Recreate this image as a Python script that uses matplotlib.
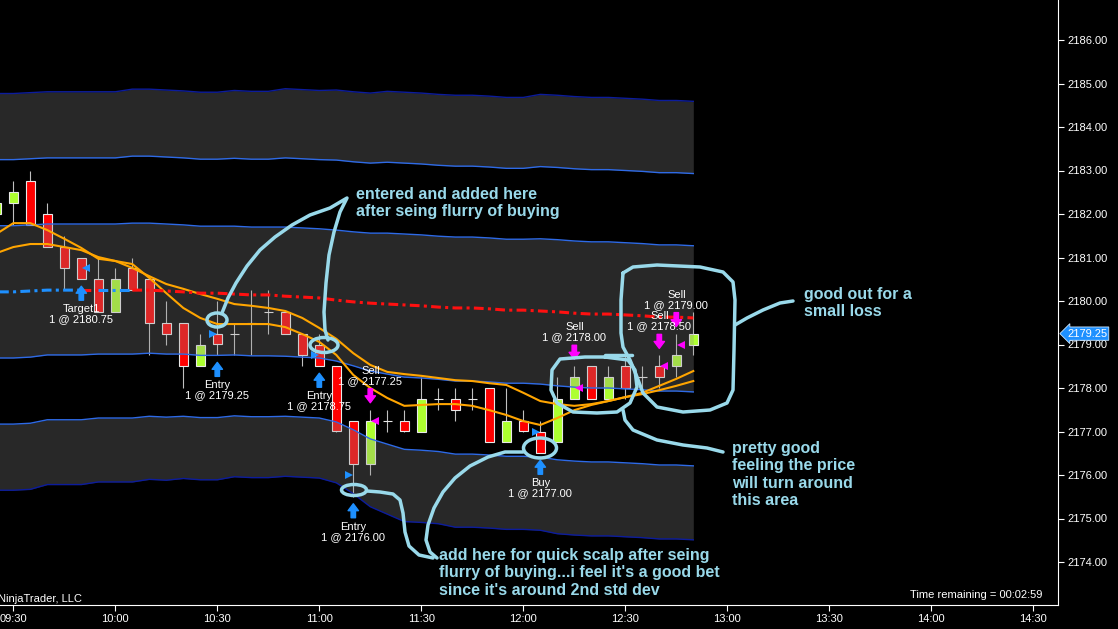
import numpy as np
import matplotlib
matplotlib.use("Agg")
import matplotlib.pyplot as plt
from matplotlib.transforms import Affine2D, blended_transform_factory
from matplotlib.patches import Ellipse

plt.rcParams['font.family'] = ['Liberation Sans', 'DejaVu Sans']

# ES 5 minute bars, index 0 = 09:30 (bar -1 is cut by the left edge)
bar = np.arange(-1, 41)
opn = [2182.00, 2182.25, 2182.75, 2182.00, 2181.25, 2181.00, 2180.50, 2179.75, 2180.75, 2180.50,
       2179.50, 2179.50, 2178.50, 2179.25, 2179.25, 2179.50, 2179.75, 2179.75, 2179.25, 2179.00,
       2178.50, 2177.25, 2176.25, 2177.25, 2177.25, 2177.00, 2177.75, 2177.75, 2177.75, 2178.00,
       2176.75, 2177.25, 2177.00, 2176.75, 2177.75, 2178.50, 2177.75, 2178.50, 2178.25, 2178.50,
       2178.50, 2179.00]
high = [2182.50, 2182.75, 2183.00, 2182.25, 2181.50, 2181.00, 2181.00, 2180.75, 2181.00, 2180.50,
        2180.00, 2179.50, 2179.25, 2180.00, 2179.50, 2180.25, 2180.25, 2179.75, 2179.25, 2179.25,
        2178.50, 2177.25, 2177.50, 2177.50, 2177.50, 2178.25, 2178.00, 2178.00, 2178.00, 2178.00,
        2178.00, 2177.50, 2177.25, 2178.25, 2178.50, 2178.50, 2178.50, 2178.75, 2178.50, 2178.75,
        2179.25, 2179.75]
low = [2181.75, 2181.75, 2181.75, 2181.25, 2180.25, 2180.50, 2179.75, 2179.75, 2180.25, 2178.75,
       2179.00, 2178.00, 2178.50, 2178.75, 2178.75, 2178.75, 2179.25, 2179.25, 2178.50, 2178.50,
       2177.00, 2175.50, 2176.00, 2177.00, 2177.00, 2177.00, 2177.50, 2177.25, 2177.50, 2176.75,
       2176.75, 2177.00, 2176.50, 2176.75, 2177.75, 2177.75, 2177.75, 2177.75, 2178.00, 2178.00,
       2178.25, 2178.75]
close = [2182.25, 2182.50, 2181.75, 2181.25, 2180.75, 2180.50, 2179.75, 2180.50, 2180.25, 2179.50,
         2179.25, 2178.50, 2179.00, 2179.00, 2179.25, 2179.50, 2179.75, 2179.25, 2178.75, 2178.50,
         2177.00, 2176.25, 2177.25, 2177.25, 2177.00, 2177.75, 2177.75, 2177.50, 2177.75, 2176.75,
         2177.25, 2177.00, 2176.50, 2177.75, 2178.25, 2177.75, 2178.25, 2178.00, 2178.25, 2178.25,
         2178.75, 2179.25]

vwap = [2180.21, 2180.21, 2180.23, 2180.25, 2180.25, 2180.25, 2180.25,
        2180.25, 2180.25, 2180.25, 2180.23, 2180.21, 2180.18, 2180.18,
        2180.16, 2180.14, 2180.14, 2180.11, 2180.09, 2180.07, 2180.02,
        2179.98, 2179.95, 2179.93, 2179.91, 2179.89, 2179.86, 2179.84,
        2179.84, 2179.82, 2179.79, 2179.79, 2179.77, 2179.75, 2179.72,
        2179.70, 2179.70, 2179.68, 2179.66, 2179.63, 2179.63, 2179.61]
sd_up = [1.52, 1.52, 1.52, 1.52, 1.52, 1.52, 1.52,
         1.52, 1.54, 1.54, 1.54, 1.54, 1.54, 1.54,
         1.56, 1.56, 1.56, 1.59, 1.59, 1.59, 1.61,
         1.61, 1.61, 1.63, 1.63, 1.63, 1.63, 1.63,
         1.63, 1.63, 1.63, 1.63, 1.66, 1.66, 1.66,
         1.66, 1.66, 1.66, 1.66, 1.66, 1.66, 1.66]
sd_dn = [1.52, 1.52, 1.52, 1.49, 1.49, 1.49, 1.47,
         1.47, 1.47, 1.45, 1.45, 1.43, 1.43, 1.43,
         1.40, 1.40, 1.40, 1.38, 1.38, 1.38, 1.40,
         1.47, 1.56, 1.61, 1.66, 1.66, 1.66, 1.68,
         1.68, 1.68, 1.68, 1.68, 1.68, 1.70, 1.70,
         1.70, 1.70, 1.70, 1.70, 1.70, 1.70, 1.70]
ema_fast = [2181.54, 2181.79, 2181.79, 2181.63, 2181.43, 2181.22, 2180.97, 2180.92, 2180.85, 2180.53,
            2180.18, 2179.84, 2179.61, 2179.47, 2179.47, 2179.47, 2179.47, 2179.40, 2179.24, 2179.06,
            2178.76, 2178.30, 2178.00, 2177.77, 2177.59, 2177.61, 2177.63, 2177.63, 2177.59, 2177.49,
            2177.38, 2177.24, 2177.15, 2177.31, 2177.49, 2177.61, 2177.70, 2177.79, 2177.89, 2178.05,
            2178.21, 2178.39]
ema_slow = [2181.10, 2181.24, 2181.31, 2181.31, 2181.24, 2181.17, 2181.01, 2180.92, 2180.76, 2180.57,
            2180.39, 2180.28, 2180.16, 2180.05, 2179.93, 2179.89, 2179.84, 2179.77, 2179.61, 2179.38,
            2179.13, 2178.80, 2178.53, 2178.37, 2178.32, 2178.28, 2178.23, 2178.18, 2178.16, 2178.11,
            2178.07, 2177.89, 2177.70, 2177.63, 2177.59, 2177.63, 2177.70, 2177.79, 2177.86, 2177.95,
            2178.05, 2178.16]

time_labels = ['09:30', '10:00', '10:30', '11:00', '11:30', '12:00',
               '12:30', '13:00', '13:30', '14:00', '14:30']
price_ticks = [2174, 2175, 2176, 2177, 2178, 2179, 2180, 2181, 2182, 2183, 2184, 2185, 2186]

# executions: bar, name, fill price, side, entry/exit
exec_bar = [4, 12, 18, 20, 21, 31, 33, 38, 39]
exec_name = ['Target1', 'Entry', 'Entry', 'Entry', 'Sell', 'Buy', 'Sell', 'Sell', 'Sell']
exec_price = [2180.75, 2179.25, 2178.75, 2176.00, 2177.25, 2177.00, 2178.00, 2178.50, 2179.00]
exec_side = ['buy', 'buy', 'buy', 'buy', 'sell', 'buy', 'sell', 'sell', 'sell']
exec_kind = ['exit', 'entry', 'entry', 'entry', 'exit', 'entry', 'exit', 'exit', 'exit']

W, H = 1118, 629
fig = plt.figure(figsize=(W / 100, H / 100), dpi=100, facecolor='black')
ax = fig.add_axes([0, 24 / H, 1058 / W, 605 / H])
ax.set_facecolor('black')
pix = Affine2D().scale(1 / W, -1 / H).translate(0, 1) + fig.transFigure
PT = 0.72  # points per pixel

o = np.array(opn); c = np.array(close); hi = np.array(high); lo = np.array(low)
vw = np.array(vwap); su = np.array(sd_up); sdn = np.array(sd_dn)

# candles
ax.vlines(bar, lo, hi, color='#c0c0c0', lw=0.8, zorder=2)
cols = np.where(c > o, '#adff2f', '#ff0000')
ax.bar(bar, c - o, bottom=o, width=0.52, color=cols, edgecolor='#e8e8e8', linewidth=0.8, zorder=2.5)

# std dev bands (drawn over the candles like the platform does)
band = dict(color='#8c8c8c', alpha=0.29, lw=0, zorder=3)
ax.fill_between(bar, vw + 2 * su, vw + 3 * su, **band)
ax.fill_between(bar, vw - sdn, vw + su, **band)
ax.fill_between(bar, vw - 3 * sdn, vw - 2 * sdn, **band)
ax.plot(bar, vw + 3 * su, color='#0c1c9c', lw=1, zorder=3.2)
ax.plot(bar, vw + 2 * su, color='#2e6ae6', lw=1, zorder=3.2)
ax.plot(bar, vw + su, color='#2e6ae6', lw=1, zorder=3.2)
ax.plot(bar, vw - sdn, color='#2e6ae6', lw=1, zorder=3.2)
ax.plot(bar, vw - 2 * sdn, color='#2e6ae6', lw=1, zorder=3.2)
ax.plot(bar, vw - 3 * sdn, color='#0c1c9c', lw=1, zorder=3.2)

# emas
ax.plot(bar, ema_slow, color='#ffa500', lw=1.5, zorder=4)
ax.plot(bar, ema_fast, color='#ffa500', lw=1.5, zorder=4)

# vwap, blue while the close holds above it; draw each colour run as one line
above = c >= vw
start = 0
for k in range(1, len(bar) + 1):
    if k == len(bar) or above[k] != above[start + 1 if start + 1 < len(bar) else start]:
        col = '#1e90ff' if above[min(start + 1, len(bar) - 1)] else '#ff1010'
        ax.plot(bar[start:k], vw[start:k], color=col, lw=2.2,
                ls=(0, (3.2, 1.4, 1, 1.4)), zorder=4.2)
        start = k - 1

# execution markers
for b, name, p, side, kind in zip(exec_bar, exec_name, exec_price, exec_side, exec_kind):
    k = b + 1
    col = '#1e90ff' if side == 'buy' else '#ff00ff'
    if kind == 'entry':
        ax.plot(b - 0.27, p, marker='>', ms=5.5, color=col, mew=0, zorder=5)
    else:
        ax.plot(b + 0.27, p, marker='<', ms=5.5, color=col, mew=0, zorder=5)
    arrow = dict(arrowstyle='simple,head_length=0.5,head_width=0.75,tail_width=0.32',
                 color=col, shrinkA=0, shrinkB=7 * PT)
    txt = '%s\n1 @ %.2f' % (name, p)
    if side == 'buy':
        ax.annotate('', xy=(b, lo[k]), xytext=(0, -21 * PT), textcoords='offset points',
                    arrowprops=arrow, zorder=5)
        ax.annotate(txt, xy=(b, lo[k]), xytext=(0, -25 * PT), textcoords='offset points',
                    ha='center', va='top', fontsize=8, color='white', linespacing=1.0, zorder=6)
    else:
        ax.annotate('', xy=(b, hi[k]), xytext=(0, 21 * PT), textcoords='offset points',
                    arrowprops=arrow, zorder=5)
        ax.annotate(txt, xy=(b, hi[k]), xytext=(0, 24 * PT), textcoords='offset points',
                    ha='center', va='bottom', fontsize=8, color='white', linespacing=1.0, zorder=6)

# axes
ax.set_xlim(-13.3 / 17, (1058 - 13.3) / 17)
ax.set_ylim(2180 - 304 / 43.5, 2180 + 301 / 43.5)
ax.set_xticks(np.arange(len(time_labels)) * 6)
ax.set_xticklabels(time_labels)
ax.set_yticks(price_ticks)
ax.set_yticklabels(['%.2f' % t for t in price_ticks])
ax.yaxis.tick_right()
for s in ['left', 'top']:
    ax.spines[s].set_visible(False)
for s in ['right', 'bottom']:
    ax.spines[s].set_color('white')
    ax.spines[s].set_linewidth(0.8)
ax.tick_params(colors='white', labelsize=8, length=4, width=0.8, pad=2.5)

# last price marker
trans = blended_transform_factory(ax.transAxes, ax.transData)
ax.annotate('%.2f' % close[-1], xy=(1.0, close[-1]), xycoords=trans, xytext=(9 * PT, 0),
            textcoords='offset points', ha='left', va='center', fontsize=8, color='white',
            bbox=dict(boxstyle='larrow,pad=0.15', fc='#1e90ff', ec='#d0e8ff', lw=0.6),
            annotation_clip=False, zorder=7)

fig.text(-2 / W, 1 - 599 / H, 'NinjaTrader, LLC', color='white', fontsize=8, va='center')
fig.text(1042 / W, 1 - 595 / H, 'Time remaining = 00:02:59', color='white', fontsize=8,
         va='center', ha='right')

# hand drawn notes (screen pixels)
sk = dict(color='#99d9ea', lw=2.5, solid_capstyle='round', solid_joinstyle='round',
          transform=pix, clip_on=False, zorder=8)
strokes = [
    [(222, 313), (228, 298), (236, 283), (247, 266), (260, 250), (275, 237), (292, 225), (310, 215),
     (330, 208), (347, 198), (340, 212), (334, 232), (329, 255), (326, 283), (324, 312), (325, 330),
     (328, 340)],
    [(367, 491), (380, 492), (393, 494), (400, 500), (403, 513), (405, 532), (409, 546), (419, 555),
     (433, 558)],
    [(523, 452), (505, 452), (488, 457), (470, 466), (455, 478), (443, 492), (434, 508), (428, 525),
     (426, 540), (430, 552), (437, 558)],
    [(612, 357), (585, 357), (560, 359), (552, 370), (551, 390), (557, 403), (573, 412), (597, 413),
     (617, 412), (630, 403), (637, 387), (635, 370), (628, 360), (605, 357)],
    [(605, 355), (632, 355)],
    [(623, 410), (625, 420), (633, 430), (657, 440), (683, 445), (707, 448), (723, 452)],
    [(623, 273), (633, 267), (657, 265), (700, 267), (723, 272), (733, 282), (735, 300), (734, 350),
     (733, 390), (727, 403), (710, 410), (683, 412), (657, 407), (643, 393), (637, 377), (630, 360),
     (623, 347), (621, 333), (621, 300), (623, 273)],
    [(735, 325), (747, 318), (763, 310), (780, 303), (793, 301)],
]
for st in strokes:
    xs, ys = zip(*st)
    ax.plot(xs, ys, **sk)
for cx, cy, w, h in [(217, 320, 20, 14), (324, 345, 28, 15), (354, 490, 25, 11), (540, 448, 33, 20)]:
    ax.add_patch(Ellipse((cx, cy), w, h, fill=False, ec='#99d9ea', lw=2.5, transform=pix,
                         clip_on=False, zorder=8))

notes = [
    (356, 187, 'entered and added here\nafter seing flurry of buying'),
    (804, 287, 'good out for a\nsmall loss'),
    (732, 441, 'pretty good\nfeeling the price\nwill turn around\nthis area'),
    (439, 548, "add here for quick scalp after seing\nflurry of buying...i feel it's a good bet\n"
               "since it's around 2nd std dev"),
]
for x, y, t in notes:
    fig.text(x / W, 1 - y / H, t, color='#99d9ea', fontsize=11.5, fontweight='bold',
             ha='left', va='top', linespacing=1.2)

fig.savefig('out.png', dpi=100, facecolor='black')
